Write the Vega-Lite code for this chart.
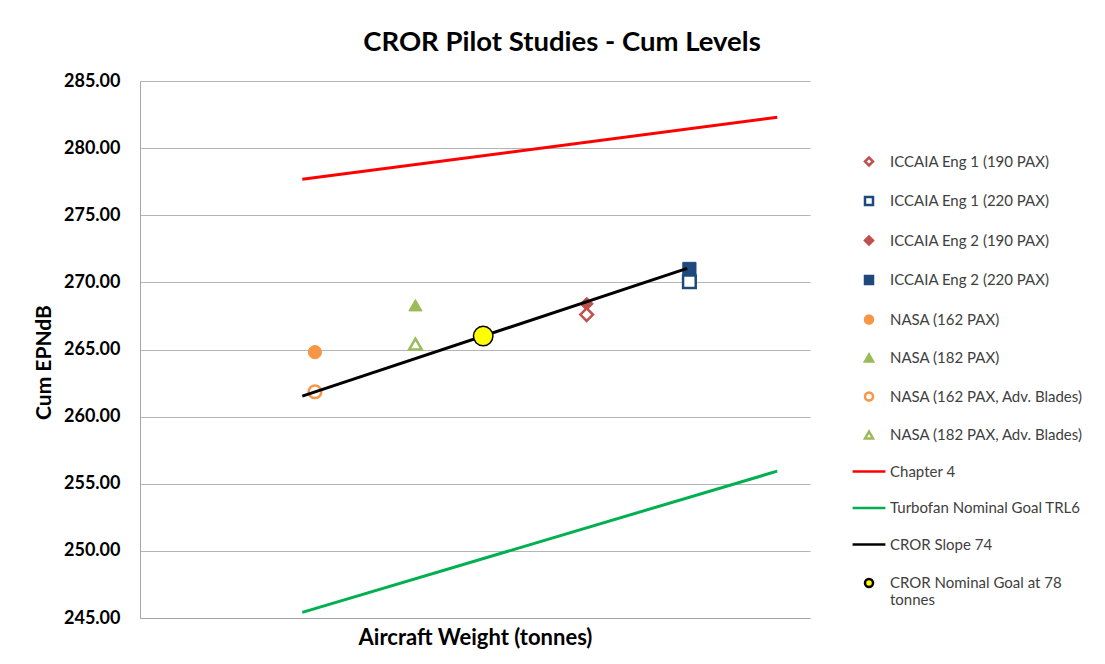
{
  "$schema": "https://vega.github.io/schema/vega-lite/v6.json",
  "width": 670,
  "height": 537,
  "autosize": {"type": "none"},
  "padding": {"left": 140, "top": 81, "right": 295, "bottom": 46},
  "background": "white",
  "title": {"text": "CROR Pilot Studies - Cum Levels", "font": "Lato", "fontSize": 27.5, "fontWeight": "bold", "color": "#000000", "anchor": "middle", "dx": 87, "offset": 16},
  "datasets": {
    "filled": [
      {"series": "ICCAIA Eng 2 (190 PAX)", "weight": 85.0, "cum": 268.4},
      {"series": "ICCAIA Eng 2 (220 PAX)", "weight": 91.9, "cum": 271.0},
      {"series": "NASA (162 PAX)", "weight": 66.75, "cum": 264.8},
      {"series": "NASA (182 PAX)", "weight": 73.5, "cum": 268.3}
    ],
    "hollow": [
      {"series": "ICCAIA Eng 1 (190 PAX)", "weight": 85.0, "cum": 267.6},
      {"series": "ICCAIA Eng 1 (220 PAX)", "weight": 91.9, "cum": 270.05},
      {"series": "NASA (162 PAX, Adv. Blades)", "weight": 66.75, "cum": 261.85},
      {"series": "NASA (182 PAX, Adv. Blades)", "weight": 73.5, "cum": 265.4}
    ],
    "lines": [
      {"series": "Chapter 4", "weight": 65.9, "cum": 277.68},
      {"series": "Chapter 4", "weight": 97.8, "cum": 282.3},
      {"series": "Turbofan Nominal Goal TRL6", "weight": 65.9, "cum": 245.42},
      {"series": "Turbofan Nominal Goal TRL6", "weight": 97.8, "cum": 255.94},
      {"series": "CROR Slope 74", "weight": 65.9, "cum": 261.53},
      {"series": "CROR Slope 74", "weight": 91.75, "cum": 271.04}
    ],
    "goal": [
      {"series": "CROR Nominal Goal at 78 tonnes", "weight": 78.05, "cum": 266.0}
    ]
  },
  "encoding": {
    "x": {"field": "weight", "type": "quantitative", "scale": {"domain": [55, 100], "nice": false, "zero": false},
      "axis": {"title": "Aircraft Weight (tonnes)", "labels": false, "ticks": false, "grid": false, "domain": true, "titlePadding": 9, "titleFontSize": 22}},
    "y": {"field": "cum", "type": "quantitative", "scale": {"domain": [245, 285], "nice": false, "zero": false},
      "axis": {"title": "Cum EPNdB", "values": [245, 250, 255, 260, 265, 270, 275, 280, 285], "format": ".2f", "ticks": false, "grid": true, "domain": true, "labelPadding": 20, "titlePadding": 9, "titleFontSize": 21, "titleY": 281}},
    "shape": {"field": "series", "type": "nominal",
      "scale": {"domain": ["ICCAIA Eng 1 (190 PAX)", "ICCAIA Eng 1 (220 PAX)", "ICCAIA Eng 2 (190 PAX)", "ICCAIA Eng 2 (220 PAX)", "NASA (162 PAX)", "NASA (182 PAX)", "NASA (162 PAX, Adv. Blades)", "NASA (182 PAX, Adv. Blades)", "Chapter 4", "Turbofan Nominal Goal TRL6", "CROR Slope 74", "CROR Nominal Goal at 78 tonnes"],
        "range": ["diamond", "square", "diamond", "square", "circle", "triangle-up", "circle", "triangle-up", "M-4.1,0L4.1,0", "M-4.1,0L4.1,0", "M-4.1,0L4.1,0", "circle"]},
      "legend": {
        "title": null,
        "orient": "none",
        "legendX": 721.5,
        "legendY": 73,
        "padding": 0,
        "symbolSize": 64,
        "symbolStrokeWidth": 2.5,
        "symbolOpacity": 1,
        "labelOffset": 13.5,
        "rowPadding": 20.5,
        "labelFont": "Lato",
        "labelFontSize": 15,
        "labelColor": "#404040",
        "labelLimit": 400,
        "labelExpr": "datum.label == 'CROR Nominal Goal at 78 tonnes' ? ['CROR Nominal Goal at 78', 'tonnes'] : datum.label",
        "encode": {
          "symbols": {
            "fill": {"value": {"expr": "scale('fill', datum.value)"}},
            "stroke": {"value": {"expr": "scale('stroke', datum.value)"}},
            "opacity": {"value": 1}
          }
        }
      }
    },
    "fill": {"field": "series", "type": "nominal", "legend": null,
      "scale": {"domain": ["ICCAIA Eng 1 (190 PAX)", "ICCAIA Eng 1 (220 PAX)", "ICCAIA Eng 2 (190 PAX)", "ICCAIA Eng 2 (220 PAX)", "NASA (162 PAX)", "NASA (182 PAX)", "NASA (162 PAX, Adv. Blades)", "NASA (182 PAX, Adv. Blades)", "Chapter 4", "Turbofan Nominal Goal TRL6", "CROR Slope 74", "CROR Nominal Goal at 78 tonnes"],
        "range": ["#ffffff", "#ffffff", "#c0504d", "#1f497d", "#f79646", "#9bbb59", "#ffffff", "#ffffff", "transparent", "transparent", "transparent", "#ffff00"]}},
    "stroke": {"field": "series", "type": "nominal", "legend": null,
      "scale": {"domain": ["ICCAIA Eng 1 (190 PAX)", "ICCAIA Eng 1 (220 PAX)", "ICCAIA Eng 2 (190 PAX)", "ICCAIA Eng 2 (220 PAX)", "NASA (162 PAX)", "NASA (182 PAX)", "NASA (162 PAX, Adv. Blades)", "NASA (182 PAX, Adv. Blades)", "Chapter 4", "Turbofan Nominal Goal TRL6", "CROR Slope 74", "CROR Nominal Goal at 78 tonnes"],
        "range": ["#c0504d", "#1f497d", "#c0504d", "#1f497d", "#f79646", "#9bbb59", "#f79646", "#9bbb59", "#ff0000", "#00b050", "#000000", "#000000"]}}
  },
  "layer": [
    {
      "data": {"name": "filled"},
      "mark": {"type": "point", "opacity": 1, "size": 175, "strokeWidth": 1}
    },
    {
      "data": {"name": "hollow"},
      "mark": {"type": "point", "opacity": 1, "size": 160, "strokeWidth": 2.5}
    },
    {
      "data": {"name": "lines"},
      "mark": {"type": "line", "strokeWidth": 3},
      "encoding": {"shape": null, "fill": null}
    },
    {
      "data": {"name": "goal"},
      "mark": {"type": "point", "opacity": 1, "size": 380, "strokeWidth": 1.5}
    }
  ],
  "config": {
    "view": {"stroke": null},
    "font": "Lato",
    "axis": {
      "domainColor": "#a6a6a6",
      "domainWidth": 1,
      "gridColor": "#b5b5b5",
      "gridWidth": 1,
      "labelFont": "Lato",
      "labelFontSize": 18,
      "labelFontWeight": "bold",
      "labelColor": "#000000",
      "titleFont": "Lato",
      "titleFontSize": 18,
      "titleFontWeight": "bold",
      "titleColor": "#000000"
    }
  }
}
